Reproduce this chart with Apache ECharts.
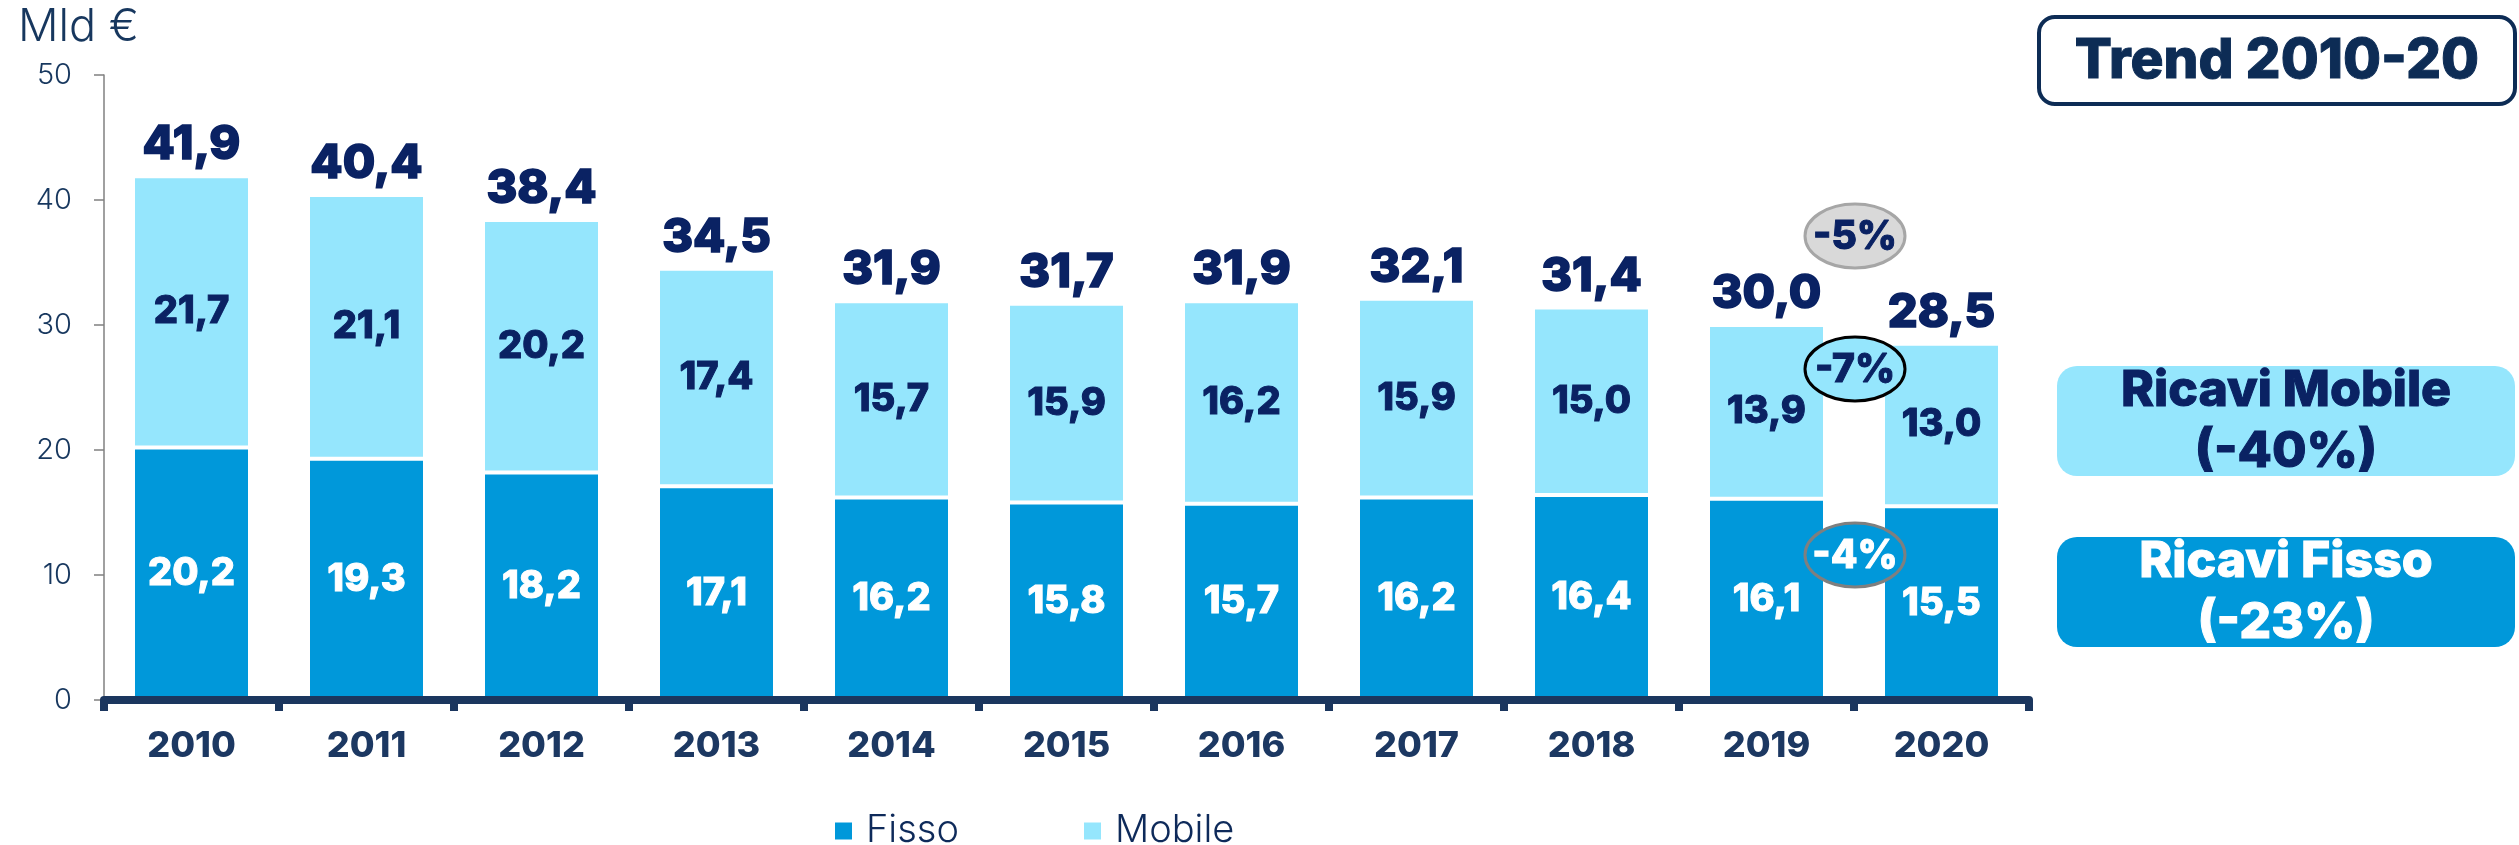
<!DOCTYPE html>
<html>
<head>
<meta charset="utf-8">
<script src="https://cdn.jsdelivr.net/npm/echarts@6/dist/echarts.min.js"></script>
<style>
  html, body { margin: 0; padding: 0; background: #fff; }
  #chart { width: 2519px; height: 845px; }
</style>
</head>
<body>
<div id="chart"></div>
<script>
// values (Mld €)
const years = ['2010', '2011', '2012', '2013', '2014', '2015', '2016', '2017', '2018', '2019', '2020'];
const fisso = [20.2, 19.3, 18.2, 17.1, 16.2, 15.8, 15.7, 16.2, 16.4, 16.1, 15.5];
const mobile = [21.7, 21.1, 20.2, 17.4, 15.7, 15.9, 16.2, 15.9, 15.0, 13.9, 13.0];
const totals = [41.9, 40.4, 38.4, 34.5, 31.9, 31.7, 31.9, 32.1, 31.4, 30.0, 28.5];
const badges = ['-5%', '-7%', '-4%'];

const FONT = 'Inter, "Noto Sans", sans-serif';
const NAVY = '#0a2263';
const BLUE = '#0098da';
const CYAN = '#95e6fd';
const HEAVY = 800;
const fmt = v => v.toFixed(1).replace('.', ',');

const chart = echarts.init(document.getElementById('chart'));

const option = {
  backgroundColor: '#fff',
  animation: false,
  textStyle: { fontFamily: FONT },
  grid: { left: 104, right: 490, top: 75, bottom: 145, containLabel: false },
  legend: [
    {
      data: ['Fisso'], left: 833, top: 812, padding: 0,
      itemWidth: 19, itemHeight: 19, icon: 'rect',
      textStyle: { fontSize: 38, fontWeight: 300, color: '#0e2a5a', fontFamily: FONT, padding: [0, 0, 0, 8] }
    },
    {
      data: ['Mobile'], left: 1082, top: 812, padding: 0,
      itemWidth: 19, itemHeight: 19, icon: 'rect',
      textStyle: { fontSize: 38, fontWeight: 300, color: '#0e2a5a', fontFamily: FONT, padding: [0, 0, 0, 8] }
    }
  ],
  xAxis: {
    type: 'category',
    data: years,
    z: 10,
    axisLine: { lineStyle: { color: '#1b365e', width: 8 } },
    axisTick: { show: true, length: 11, lineStyle: { color: '#1b365e', width: 8 } },
    axisLabel: { fontSize: 36, fontWeight: HEAVY, color: '#1c3862', margin: 28, fontFamily: FONT }
  },
  yAxis: {
    type: 'value',
    min: 0, max: 50, interval: 10,
    axisLine: { show: true, lineStyle: { color: '#808080', width: 1.5 } },
    axisTick: { show: true, length: 10, lineStyle: { color: '#808080', width: 1.5 } },
    splitLine: { show: false },
    axisLabel: { fontSize: 29, fontWeight: 300, color: '#17375e', margin: 32, fontFamily: FONT }
  },
  series: [
    {
      name: 'Fisso',
      type: 'bar',
      stack: 'tot',
      barWidth: 117,
      data: fisso,
      itemStyle: { color: BLUE, borderColor: '#fff', borderWidth: 2 },
      label: {
        show: true, position: 'inside', color: '#fff',
        textBorderColor: '#fff', textBorderWidth: 1,
        fontSize: 38, fontWeight: HEAVY, fontFamily: FONT,
        formatter: p => fmt(p.value)
      }
    },
    {
      name: 'Mobile',
      type: 'bar',
      stack: 'tot',
      barWidth: 117,
      data: mobile,
      itemStyle: { color: CYAN, borderColor: '#fff', borderWidth: 2 },
      label: {
        show: true, position: 'inside', color: NAVY,
        textBorderColor: NAVY, textBorderWidth: 1,
        fontSize: 38, fontWeight: HEAVY, fontFamily: FONT,
        formatter: p => fmt(p.value)
      }
    },
    {
      name: 'Totale',
      type: 'scatter',
      data: totals,
      symbolSize: 1,
      z: 5,
      itemStyle: { color: 'rgba(0,0,0,0)', opacity: 1 },
      label: {
        show: true, position: 'top', distance: 7, color: NAVY, opacity: 1,
        textBorderColor: NAVY, textBorderWidth: 1.6,
        fontSize: 47, fontWeight: HEAVY, fontFamily: FONT,
        formatter: p => fmt(p.value)
      }
    }
  ],
  graphic: [
    {
      type: 'text', z: 100, x: 18, y: 27,
      style: { text: 'Mld €', fontSize: 45, fontWeight: 300, fill: '#17375e', fontFamily: FONT, textVerticalAlign: 'middle' }
    },
    {
      type: 'rect', z: 100,
      shape: { x: 2039, y: 17, width: 476, height: 87, r: 16 },
      style: { fill: '#fff', stroke: '#0d2c55', lineWidth: 4 }
    },
    {
      type: 'text', z: 101, x: 2277, y: 61,
      style: { text: 'Trend 2010-20', fontSize: 55, fontWeight: HEAVY, fill: '#0d2c55', stroke: '#0d2c55', lineWidth: 1, fontFamily: FONT, textAlign: 'center', textVerticalAlign: 'middle' }
    },
    {
      type: 'rect', z: 100,
      shape: { x: 2057, y: 366, width: 458, height: 110, r: 20 },
      style: { fill: CYAN }
    },
    {
      type: 'text', z: 101, x: 2286, y: 421,
      style: { text: 'Ricavi Mobile\n(-40%)', fontSize: 50, lineHeight: 61, fontWeight: HEAVY, fill: NAVY, stroke: NAVY, lineWidth: 1, fontFamily: FONT, textAlign: 'center', textVerticalAlign: 'middle' }
    },
    {
      type: 'rect', z: 100,
      shape: { x: 2057, y: 537, width: 458, height: 110, r: 20 },
      style: { fill: BLUE }
    },
    {
      type: 'text', z: 101, x: 2286, y: 592,
      style: { text: 'Ricavi Fisso\n(-23%)', fontSize: 50, lineHeight: 61, fontWeight: HEAVY, fill: '#fff', stroke: '#fff', lineWidth: 1, fontFamily: FONT, textAlign: 'center', textVerticalAlign: 'middle' }
    },
    {
      type: 'ellipse', z: 100,
      shape: { cx: 1855, cy: 236, rx: 50, ry: 32 },
      style: { fill: '#d9d9d9', stroke: '#a6a6a6', lineWidth: 3 }
    },
    {
      type: 'text', z: 101, x: 1855, y: 237,
      style: { text: badges[0], fontSize: 39, fontWeight: HEAVY, fill: NAVY, stroke: NAVY, lineWidth: 1, fontFamily: FONT, textAlign: 'center', textVerticalAlign: 'middle' }
    },
    {
      type: 'ellipse', z: 100,
      shape: { cx: 1855, cy: 369, rx: 50, ry: 32 },
      style: { fill: CYAN, stroke: '#000', lineWidth: 3 }
    },
    {
      type: 'text', z: 101, x: 1855, y: 370,
      style: { text: badges[1], fontSize: 39, fontWeight: HEAVY, fill: NAVY, stroke: NAVY, lineWidth: 1, fontFamily: FONT, textAlign: 'center', textVerticalAlign: 'middle' }
    },
    {
      type: 'ellipse', z: 100,
      shape: { cx: 1855, cy: 555, rx: 50, ry: 32 },
      style: { fill: BLUE, stroke: '#7f7f7f', lineWidth: 3 }
    },
    {
      type: 'text', z: 101, x: 1855, y: 556,
      style: { text: badges[2], fontSize: 39, fontWeight: HEAVY, fill: '#fff', stroke: '#fff', lineWidth: 1, fontFamily: FONT, textAlign: 'center', textVerticalAlign: 'middle' }
    }
  ]
};

chart.setOption(option);
</script>
</body>
</html>
